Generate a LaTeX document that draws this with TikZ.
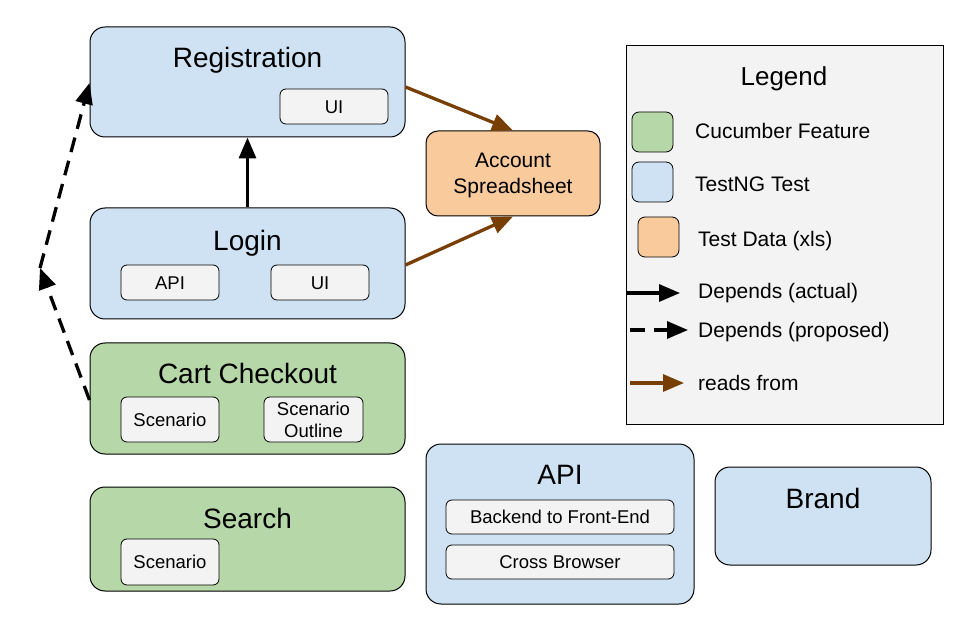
\documentclass[tikz,border=0pt]{standalone}
\usepackage{fontspec}
\setmainfont{Liberation Sans}
\usetikzlibrary{arrows.meta,calc}
\definecolor{cblue}{HTML}{CFE2F3}
\definecolor{cgreen}{HTML}{B6D7A8}
\definecolor{corange}{HTML}{F9CB9C}
\definecolor{cgray}{HTML}{F3F3F3}
\definecolor{cbrown}{HTML}{783F04}
\tikzset{
  bigbox/.style={draw=black, line width=1pt, rounded corners=15pt, inner sep=0pt},
  bluebox/.style={bigbox, fill=cblue},
  greenbox/.style={bigbox, fill=cgreen},
  orangebox/.style={bigbox, fill=corange, rounded corners=12pt},
  fixh/.style={text height=#1, text depth=0pt},
  inbox/.style={draw=black, line width=0.8pt, fill=cgray, rounded corners=6pt, inner sep=0pt, font=\fontsize{18.5}{21}\selectfont, align=center},
  swatch/.style={draw=black, line width=0.8pt, rounded corners=7pt, minimum width=41pt, minimum height=40pt, inner sep=0pt},
  title/.style={font=\fontsize{28}{32}\selectfont, inner sep=0pt, fixh=20pt},
  legtext/.style={font=\fontsize{21}{24}\selectfont, inner sep=0pt, anchor=west, fixh=15pt},
  tip/.style={-{Triangle[length=21pt,width=17pt]}},
  dep/.style={tip, line width=3.3pt, black},
  prop/.style={tip, line width=3.3pt, black, dash pattern=on 15pt off 9pt},
  reads/.style={tip, line width=3.3pt, cbrown},
}
\begin{document}
\begin{tikzpicture}[x=1pt,y=-1pt]
\useasboundingbox (0,0) rectangle (956,636);
% Registration
\node[bluebox, minimum width=315pt, minimum height=110pt] (reg) at (247.5,82) {};
\node[title] (regt) at (247.5,58) {Registration};
\node[inbox, fixh=13.3pt, minimum width=108pt, minimum height=35pt] (regui) at (334,106.5) {UI};
% Login
\node[bluebox, minimum width=315pt, minimum height=111pt] (login) at (247.5,263.5) {};
\node[title] (logint) at (247.5,241) {Login};
\node[inbox, fixh=13.3pt, minimum width=98pt, minimum height=35pt] (loginapi) at (170,282.5) {API};
\node[inbox, fixh=13.3pt, minimum width=98pt, minimum height=35pt] (loginui) at (320,282.5) {UI};
% Cart Checkout
\node[greenbox, minimum width=315pt, minimum height=111pt] (cart) at (247.5,398.5) {};
\node[title] (cartt) at (247.5,374) {Cart Checkout};
\node[inbox, fixh=13.3pt, minimum width=98pt, minimum height=45pt] (cartsc) at (170,419.5) {Scenario};
\node[inbox, minimum width=99pt, minimum height=45pt] (cartso) at (313.5,419.5) {};
\node[font=\fontsize{18.5}{22}\selectfont, align=center, inner sep=0pt] (cartsot) at (313.5,420) {Scenario\\Outline};
% Search
\node[greenbox, minimum width=315pt, minimum height=104pt] (search) at (247.5,539) {};
\node[title] (searcht) at (247.5,518) {Search};
\node[inbox, fixh=13.3pt, minimum width=98pt, minimum height=46pt] (searchsc) at (170,562) {Scenario};
% API
\node[bluebox, minimum width=268pt, minimum height=160pt] (api) at (560,524) {};
\node[title] (apit) at (560,474) {API};
\node[inbox, fixh=13.3pt, minimum width=228pt, minimum height=34pt] (apib) at (560,517) {Backend to Front-End};
\node[inbox, fixh=13.3pt, minimum width=228pt, minimum height=34pt] (apic) at (560,562) {Cross Browser};
% Brand
\node[bluebox, minimum width=216pt, minimum height=98pt] (brand) at (823,516) {};
\node[title] (brandt) at (823,498) {Brand};
% Account Spreadsheet
\node[orangebox, minimum width=174pt, minimum height=85pt] (acc) at (513,173.5) {};
\node[font=\fontsize{21}{26}\selectfont, align=center, inner sep=0pt] (acct) at (513,175.5) {Account\\Spreadsheet};
% Legend
\node[draw=black, line width=1pt, fill=cgray, minimum width=317pt, minimum height=378pt, inner sep=0pt] (leg) at (784.5,235) {};
\node[font=\fontsize{26}{30}\selectfont, inner sep=0pt, fixh=18.7pt] (legt) at (784,76) {Legend};
\node[swatch, fill=cgreen] (sw1) at (652.5,132) {};
\node[legtext] (lt1) at (695,131) {Cucumber Feature};
\node[swatch, fill=cblue] (sw2) at (652.5,182) {};
\node[legtext] (lt2) at (695,184) {TestNG Test};
\node[swatch, fill=corange] (sw3) at (658.5,237) {};
\node[legtext] (lt3) at (698,239) {Test Data (xls)};
\node[legtext] (lt4) at (698,291) {Depends (actual)};
\node[legtext] (lt5) at (698,330) {Depends (proposed)};
\node[legtext] (lt6) at (698,383) {reads from};
\coordinate (a1s) at (627,293);
\coordinate (a1e) at (680,293);
\coordinate (a2s) at (630,330);
\coordinate (a2e) at (688,330);
\coordinate (a3s) at (630,383);
\coordinate (a3e) at (684,383);
\draw[dep] (a1s) -- (a1e);
\draw[prop] (a2s) -- (a2e);
\draw[reads] (a3s) -- (a3e);
% connectors
\draw[dep] (login.north) -- (reg.south);
\draw[reads] ([yshift=-5pt]reg.east) -- (acc.north);
\draw[reads] ([yshift=-1.5pt]login.east) -- (acc.south);
\coordinate (mid) at (40,268);
\draw[prop] ([yshift=-1.5pt]cart.west) -- (mid);
\draw[prop] (mid) -- ([yshift=-1pt]reg.west);
\end{tikzpicture}
\end{document}
